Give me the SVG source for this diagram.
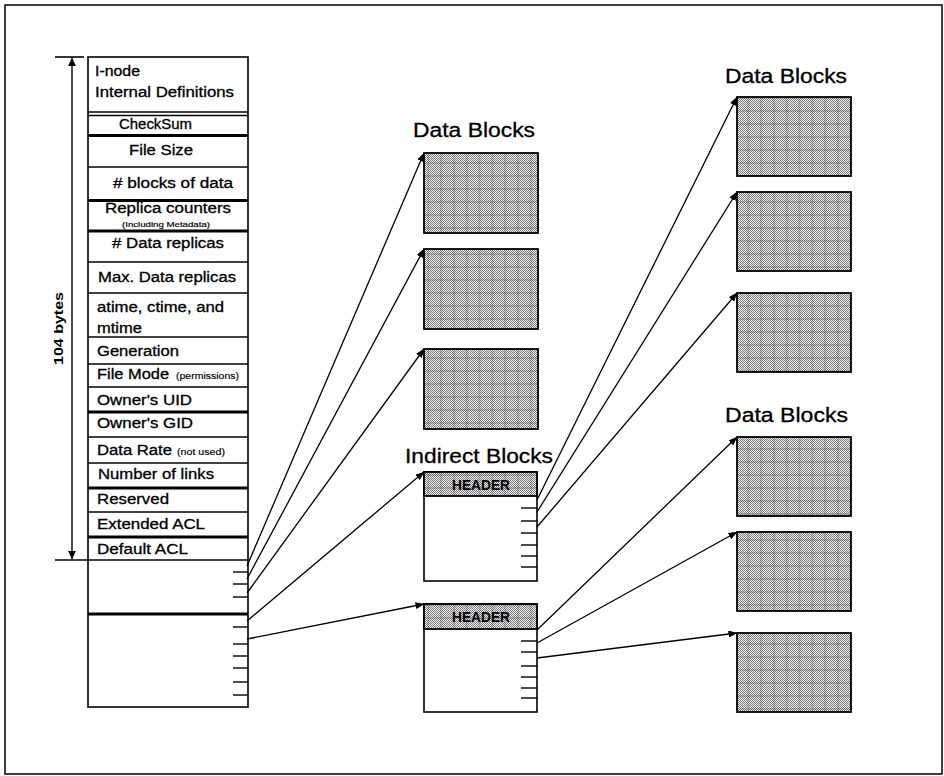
<svg xmlns="http://www.w3.org/2000/svg" width="944" height="776" viewBox="0 0 944 776">
  <style>
    .frame { fill: none; stroke: #000; stroke-width: 1.5; }
    .box { fill: #fff; stroke: #000; stroke-width: 1.6; }
    .sep { stroke: #000; stroke-width: 1.6; }
    .sep2 { stroke: #000; stroke-width: 2.8; }
    .tick { stroke: #000; stroke-width: 1.4; }
    .lbl { font-family: "Liberation Sans", Arial, sans-serif; font-size: 14px; fill: #000; stroke: #000; stroke-width: 0.3; }
    .tiny { font-family: "Liberation Sans", Arial, sans-serif; font-size: 6.5px; fill: #000; stroke: #000; stroke-width: 0.15; }
    .small { font-family: "Liberation Sans", Arial, sans-serif; font-size: 8.5px; fill: #000; stroke: #000; stroke-width: 0.15; }
    .title { font-family: "Liberation Sans", Arial, sans-serif; font-size: 20px; fill: #000; stroke: #000; stroke-width: 0.3; }
    .hdr { font-family: "Liberation Sans", Arial, sans-serif; font-size: 14px; font-weight: bold; fill: #000; }
    .dim { font-family: "Liberation Sans", Arial, sans-serif; font-size: 12.5px; font-weight: bold; fill: #000; }
    .conn { stroke: #000; stroke-width: 1.3; fill: none; marker-end: url(#head); }
    .shade { fill: url(#dots); }
    .grid { fill: url(#grid); }
    .outline { fill: none; stroke: #000; stroke-width: 1.8; }
  </style>
  <defs>
    <pattern id="dots" width="2" height="2" patternUnits="userSpaceOnUse">
      <rect width="2" height="2" fill="#f2f2f2"/>
      <rect width="1" height="1" fill="#7a7a7a"/>
      <rect x="1" y="1" width="1" height="1" fill="#7a7a7a"/>
    </pattern>
    <pattern id="grid" width="12.8" height="13" patternUnits="userSpaceOnUse">
      <rect x="5" y="0" width="2" height="13" fill="#555" opacity="0.25"/>
      <rect x="0" y="6" width="12.8" height="2" fill="#555" opacity="0.25"/>
    </pattern>
    <marker id="head" markerWidth="9" markerHeight="7" refX="8.5" refY="3.5" orient="auto" markerUnits="userSpaceOnUse">
      <path d="M0,0 L9,3.5 L0,7 z" fill="#000"/>
    </marker>
    <marker id="dimhead" markerWidth="8" markerHeight="10" refX="8" refY="4" orient="auto" markerUnits="userSpaceOnUse">
      <path d="M0,0 L8,4 L0,8 z" fill="#000"/>
    </marker>
  </defs>

  <rect class="frame" x="5" y="5" width="937" height="769" fill="#fff"/>

  <!-- size dimension for the fixed part of the i-node -->
  <g id="size-dimension">
    <line x1="55" y1="57" x2="84" y2="57" class="sep"/>
    <line x1="55" y1="560" x2="88" y2="560" class="sep"/>
    <line x1="72" y1="308" x2="72" y2="58" stroke="#000" stroke-width="1.4" marker-end="url(#dimhead)"/>
    <line x1="72" y1="308" x2="72" y2="559" stroke="#000" stroke-width="1.4" marker-end="url(#dimhead)"/>
    <text class="dim" transform="translate(63,365) rotate(-90)" textLength="73" lengthAdjust="spacingAndGlyphs">104 bytes</text>
  </g>

  <!-- i-node layout -->
  <g id="inode">
    <rect class="box" x="88" y="57" width="160" height="650"/>
    <line class="sep" x1="88" y1="112" x2="248" y2="112"/>
    <line class="sep" x1="88" y1="115.5" x2="248" y2="115.5"/>
    <line class="sep2" x1="88" y1="135.5" x2="248" y2="135.5"/>
    <line class="sep" x1="88" y1="167" x2="248" y2="167"/>
    <line class="sep2" x1="88" y1="200.5" x2="248" y2="200.5"/>
    <line class="sep2" x1="88" y1="231" x2="248" y2="231"/>
    <line class="sep" x1="88" y1="262" x2="248" y2="262"/>
    <line class="sep" x1="88" y1="293" x2="248" y2="293"/>
    <line class="sep" x1="88" y1="337" x2="248" y2="337"/>
    <line class="sep" x1="88" y1="364" x2="248" y2="364"/>
    <line class="sep" x1="88" y1="387" x2="248" y2="387"/>
    <line class="sep2" x1="88" y1="412" x2="248" y2="412"/>
    <line class="sep" x1="88" y1="437" x2="248" y2="437"/>
    <line class="sep" x1="88" y1="463" x2="248" y2="463"/>
    <line class="sep2" x1="88" y1="488" x2="248" y2="488"/>
    <line class="sep" x1="88" y1="512" x2="248" y2="512"/>
    <line class="sep2" x1="88" y1="537" x2="248" y2="537"/>
    <line class="sep" x1="88" y1="560" x2="248" y2="560"/>
    <line class="sep2" x1="88" y1="614" x2="248" y2="614"/>

    <text class="lbl" x="95" y="76" textLength="45" lengthAdjust="spacingAndGlyphs">I-node</text>
    <text class="lbl" x="95" y="97" textLength="139" lengthAdjust="spacingAndGlyphs">Internal Definitions</text>
    <text class="lbl" x="119" y="129" textLength="73" lengthAdjust="spacingAndGlyphs">CheckSum</text>
    <text class="lbl" x="129" y="155" textLength="64" lengthAdjust="spacingAndGlyphs">File Size</text>
    <text class="lbl" x="113" y="188" textLength="120" lengthAdjust="spacingAndGlyphs"># blocks of data</text>
    <text class="lbl" x="105" y="213" textLength="126" lengthAdjust="spacingAndGlyphs">Replica counters</text>
    <text class="tiny" x="122" y="226.5" textLength="88" lengthAdjust="spacingAndGlyphs">(Including Metadata)</text>
    <text class="lbl" x="112" y="248" textLength="112" lengthAdjust="spacingAndGlyphs"># Data replicas</text>
    <text class="lbl" x="98" y="282" textLength="138" lengthAdjust="spacingAndGlyphs">Max. Data replicas</text>
    <text class="lbl" x="97" y="312" textLength="127" lengthAdjust="spacingAndGlyphs">atime, ctime, and</text>
    <text class="lbl" x="97" y="333" textLength="45" lengthAdjust="spacingAndGlyphs">mtime</text>
    <text class="lbl" x="97" y="356" textLength="82" lengthAdjust="spacingAndGlyphs">Generation</text>
    <text class="lbl" x="97" y="379" textLength="72" lengthAdjust="spacingAndGlyphs">File Mode</text>
    <text class="small" x="176" y="379" textLength="63" lengthAdjust="spacingAndGlyphs">(permissions)</text>
    <text class="lbl" x="97" y="405" textLength="95" lengthAdjust="spacingAndGlyphs">Owner's UID</text>
    <text class="lbl" x="97" y="428" textLength="96" lengthAdjust="spacingAndGlyphs">Owner's GID</text>
    <text class="lbl" x="97" y="455" textLength="75" lengthAdjust="spacingAndGlyphs">Data Rate</text>
    <text class="small" x="177" y="455" textLength="48" lengthAdjust="spacingAndGlyphs">(not used)</text>
    <text class="lbl" x="98" y="479" textLength="116" lengthAdjust="spacingAndGlyphs">Number of links</text>
    <text class="lbl" x="97" y="504" textLength="72" lengthAdjust="spacingAndGlyphs">Reserved</text>
    <text class="lbl" x="97" y="529" textLength="108" lengthAdjust="spacingAndGlyphs">Extended ACL</text>
    <text class="lbl" x="97" y="554" textLength="91" lengthAdjust="spacingAndGlyphs">Default ACL</text>

    <!-- direct and indirect block pointers -->
    <line class="tick" x1="233" y1="572" x2="248" y2="572"/>
    <line class="tick" x1="233" y1="584" x2="248" y2="584"/>
    <line class="tick" x1="233" y1="597" x2="248" y2="597"/>
    <line class="tick" x1="233" y1="627" x2="248" y2="627"/>
    <line class="tick" x1="233" y1="644" x2="248" y2="644"/>
    <line class="tick" x1="233" y1="656" x2="248" y2="656"/>
    <line class="tick" x1="233" y1="668" x2="248" y2="668"/>
    <line class="tick" x1="233" y1="682" x2="248" y2="682"/>
    <line class="tick" x1="233" y1="695" x2="248" y2="695"/>
  </g>

  <!-- direct data blocks -->
  <g id="direct-blocks">
    <text class="title" x="413" y="137" textLength="122" lengthAdjust="spacingAndGlyphs">Data Blocks</text>
    <g id="direct-block-1">
      <rect class="shade" x="424" y="153" width="114" height="80"/>
      <rect class="grid" x="424" y="153" width="114" height="80"/>
      <rect class="outline" x="424" y="153" width="114" height="80"/>
    </g>
    <g id="direct-block-2">
      <rect class="shade" x="424" y="249" width="114" height="80"/>
      <rect class="grid" x="424" y="249" width="114" height="80"/>
      <rect class="outline" x="424" y="249" width="114" height="80"/>
    </g>
    <g id="direct-block-3">
      <rect class="shade" x="424" y="349" width="114" height="80"/>
      <rect class="grid" x="424" y="349" width="114" height="80"/>
      <rect class="outline" x="424" y="349" width="114" height="80"/>
    </g>
  </g>

  <!-- indirect blocks -->
  <g id="indirect-blocks">
    <text class="title" x="405" y="463" textLength="148" lengthAdjust="spacingAndGlyphs">Indirect Blocks</text>
  </g>
  <g id="indirect-block-1">
    <rect class="box" x="424" y="472" width="113" height="109"/>
    <rect class="shade" x="424" y="472" width="113" height="24"/>
    <rect class="grid" x="424" y="472" width="113" height="24"/>
    <rect class="outline" x="424" y="472" width="113" height="24"/>
    <text class="hdr" x="452" y="489.5" textLength="58" lengthAdjust="spacingAndGlyphs">HEADER</text>
    <line class="tick" x1="521" y1="508" x2="537" y2="508"/>
    <line class="tick" x1="521" y1="521" x2="537" y2="521"/>
    <line class="tick" x1="521" y1="533" x2="537" y2="533"/>
    <line class="tick" x1="521" y1="545" x2="537" y2="545"/>
    <line class="tick" x1="521" y1="556" x2="537" y2="556"/>
    <line class="tick" x1="521" y1="567" x2="537" y2="567"/>
  </g>
  <g id="indirect-block-2">
    <rect class="box" x="424" y="604" width="113" height="108"/>
    <rect class="shade" x="424" y="604" width="113" height="25"/>
    <rect class="grid" x="424" y="604" width="113" height="25"/>
    <rect class="outline" x="424" y="604" width="113" height="25"/>
    <text class="hdr" x="452" y="621.5" textLength="58" lengthAdjust="spacingAndGlyphs">HEADER</text>
    <line class="tick" x1="521" y1="641" x2="537" y2="641"/>
    <line class="tick" x1="521" y1="652" x2="537" y2="652"/>
    <line class="tick" x1="521" y1="666" x2="537" y2="666"/>
    <line class="tick" x1="521" y1="677" x2="537" y2="677"/>
    <line class="tick" x1="521" y1="688" x2="537" y2="688"/>
    <line class="tick" x1="521" y1="698" x2="537" y2="698"/>
  </g>

  <!-- data blocks reached through the first indirect block -->
  <g id="indirect-data-1">
    <text class="title" x="725" y="83" textLength="122" lengthAdjust="spacingAndGlyphs">Data Blocks</text>
    <g id="indirect-data-1a">
      <rect class="shade" x="737" y="97" width="114" height="79"/>
      <rect class="grid" x="737" y="97" width="114" height="79"/>
      <rect class="outline" x="737" y="97" width="114" height="79"/>
    </g>
    <g id="indirect-data-1b">
      <rect class="shade" x="737" y="192" width="114" height="79"/>
      <rect class="grid" x="737" y="192" width="114" height="79"/>
      <rect class="outline" x="737" y="192" width="114" height="79"/>
    </g>
    <g id="indirect-data-1c">
      <rect class="shade" x="737" y="293" width="114" height="79"/>
      <rect class="grid" x="737" y="293" width="114" height="79"/>
      <rect class="outline" x="737" y="293" width="114" height="79"/>
    </g>
  </g>

  <!-- data blocks reached through the second indirect block -->
  <g id="indirect-data-2">
    <text class="title" x="725" y="422" textLength="123" lengthAdjust="spacingAndGlyphs">Data Blocks</text>
    <g id="indirect-data-2a">
      <rect class="shade" x="737" y="437" width="114" height="79"/>
      <rect class="grid" x="737" y="437" width="114" height="79"/>
      <rect class="outline" x="737" y="437" width="114" height="79"/>
    </g>
    <g id="indirect-data-2b">
      <rect class="shade" x="737" y="532" width="114" height="79"/>
      <rect class="grid" x="737" y="532" width="114" height="79"/>
      <rect class="outline" x="737" y="532" width="114" height="79"/>
    </g>
    <g id="indirect-data-2c">
      <rect class="shade" x="737" y="633" width="114" height="79"/>
      <rect class="grid" x="737" y="633" width="114" height="79"/>
      <rect class="outline" x="737" y="633" width="114" height="79"/>
    </g>
  </g>

  <!-- block pointers -->
  <g id="connectors">
    <line class="conn" x1="247" y1="566" x2="424" y2="153"/>
    <line class="conn" x1="247" y1="579" x2="424" y2="249"/>
    <line class="conn" x1="247" y1="593" x2="424" y2="349"/>
    <line class="conn" x1="247" y1="621" x2="424" y2="472"/>
    <line class="conn" x1="247" y1="639" x2="424" y2="604"/>
    <line class="conn" x1="537" y1="500" x2="737" y2="97"/>
    <line class="conn" x1="537" y1="512" x2="737" y2="192"/>
    <line class="conn" x1="537" y1="527" x2="737" y2="293"/>
    <line class="conn" x1="537" y1="630" x2="737" y2="437"/>
    <line class="conn" x1="537" y1="643" x2="737" y2="532"/>
    <line class="conn" x1="537" y1="658" x2="737" y2="633"/>
  </g>
</svg>
